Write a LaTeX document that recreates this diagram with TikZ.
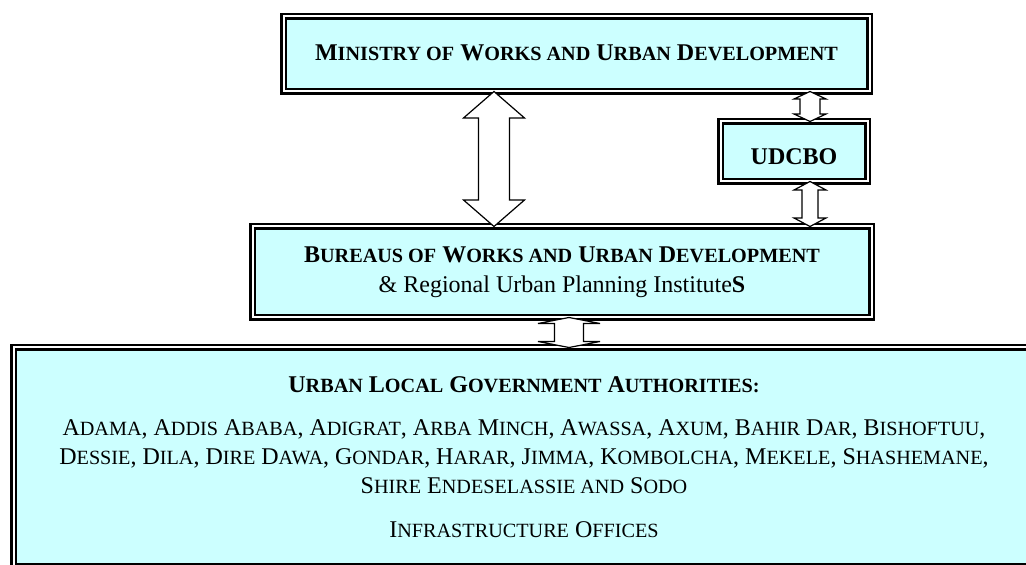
\documentclass[tikz,border=0pt]{standalone}
\usepackage{fontspec}
\setmainfont{Liberation Serif}
\usetikzlibrary{calc}
\definecolor{boxcyan}{HTML}{CCFFFF}
\newcommand{\scap}[1]{{\fontsize{10.1pt}{14.5pt}\selectfont\MakeUppercase{#1}}}
\newcommand{\dblarrow}[5]{\draw[link] (#1) -- ++(#4,#5) -- ++(-#4+#3,0) -- ($(#2)+(#3,-#5)$) -- ++(#4-#3,0) -- (#2) -- ++(-#4,-#5) -- ++(#4-#3,0) -- ($(#1)+(-#3,#5)$) -- ++(-#4+#3,0) -- cycle;}

\begin{document}
\begin{tikzpicture}[x=0.5pt,y=-0.5pt]
        \tikzstyle{dbox}=[draw,double=white,line width=1.1pt,double distance=1pt,fill=boxcyan,outer sep=0pt,inner sep=0pt,align=center,font=\fontsize{12pt}{14.5pt}\selectfont]
        \tikzstyle{link}=[fill=white,line width=0.6pt,line join=miter]
        \useasboundingbox (0,0) rectangle (1026,565);
        \node[dbox,minimum width=293pt,minimum height=37.5pt,text height=7pt] (mowud) at (576.5,54)
        {\textbf{M\scap{inistry of} W\scap{orks and} U\scap{rban} D\scap{evelopment}}};
        \node[dbox,minimum width=73.5pt,minimum height=30pt,text height=13.5pt] (udcbo) at (794,151.5) {\textbf{UDCBO}};
        \node[dbox,minimum width=309.5pt,minimum height=45.5pt] (bowud) at (562,272)
        {\textbf{B\scap{ureaus of} W\scap{orks and} U\scap{rban} D\scap{evelopment}}\\[0.5pt] \& Regional Urban Planning Institute\textbf{S}};
        \node[dbox,minimum width=510.5pt,minimum height=109.5pt] (ulga) at (524,457)
        {\textbf{U\scap{rban} L\scap{ocal} G\scap{overnment} A\scap{uthorities:}}\\[7pt]
        A\scap{dama}, A\scap{ddis} A\scap{baba}, A\scap{digrat}, A\scap{rba} M\scap{inch}, A\scap{wassa}, A\scap{xum}, B\scap{ahir} D\scap{ar}, B\scap{ishoftuu},\\
        D\scap{essie}, D\scap{ila}, D\scap{ire} D\scap{awa}, G\scap{ondar}, H\scap{arar}, J\scap{imma}, K\scap{ombolcha}, M\scap{ekele}, S\scap{hashemane},\\
        S\scap{hire} E\scap{ndeselassie and} S\scap{odo}\\[7.5pt]
        I\scap{nfrastructure} O\scap{ffices}};
        \coordinate (bigx) at (494,0);
        \coordinate (smallx) at (810,0);
        \coordinate (lowx) at (569,0);
        \dblarrow{mowud.south -| bigx}{bowud.north -| bigx}{15.5}{30.5}{26.5}
        \dblarrow{mowud.south -| smallx}{udcbo.north -| smallx}{10}{16}{7.5}
        \dblarrow{udcbo.south -| smallx}{bowud.north -| smallx}{8}{16}{8.5}
        \dblarrow{bowud.south -| lowx}{ulga.north -| lowx}{14.5}{31}{6}
\end{tikzpicture}
\end{document}
